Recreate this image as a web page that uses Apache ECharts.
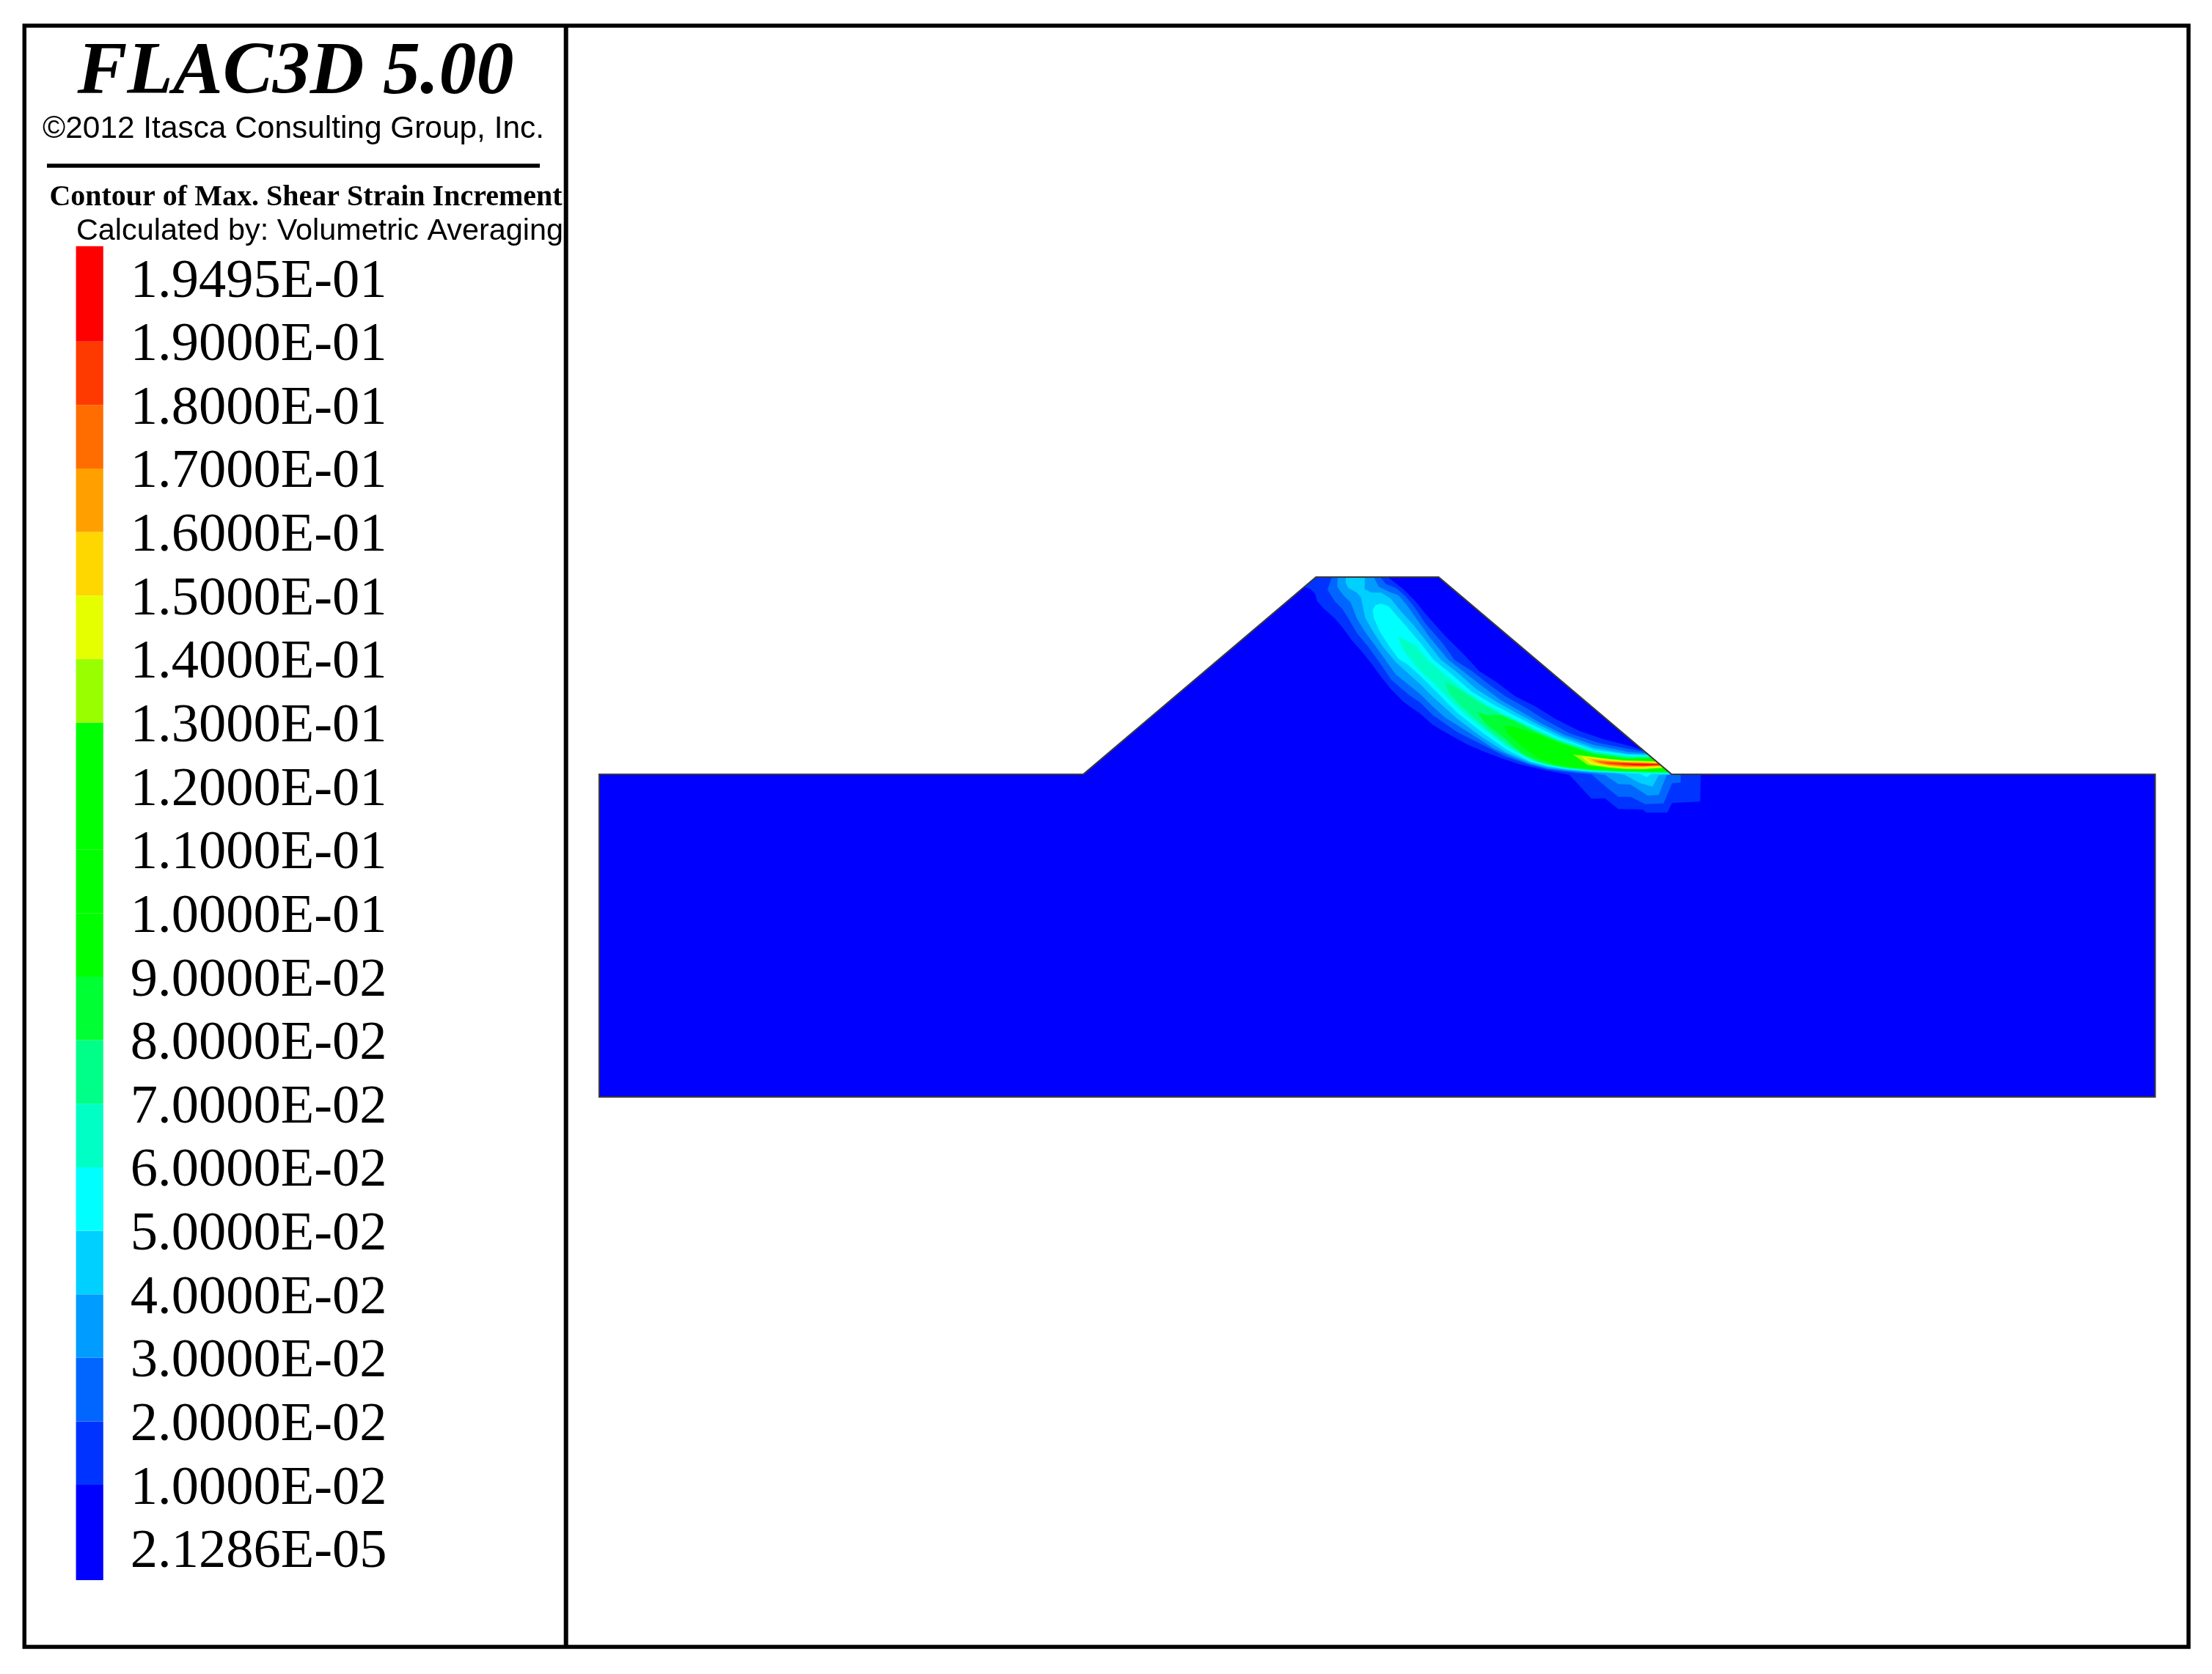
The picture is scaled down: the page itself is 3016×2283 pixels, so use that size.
<!DOCTYPE html>
<html>
<head>
<meta charset="utf-8">
<title>FLAC3D contour</title>
<script src="https://cdn.jsdelivr.net/npm/echarts@6/dist/echarts.min.js"></script>
<style>
  html, body { margin: 0; padding: 0; background: #fff; }
  #main { width: 3016px; height: 2283px; }
</style>
</head>
<body>
<div id="main"></div>
<script>
// legend, bottom to top
const tickLabels = ['2.1286E-05', '1.0000E-02', '2.0000E-02', '3.0000E-02', '4.0000E-02', '5.0000E-02', '6.0000E-02',
  '7.0000E-02', '8.0000E-02', '9.0000E-02', '1.0000E-01', '1.1000E-01', '1.2000E-01', '1.3000E-01', '1.4000E-01',
  '1.5000E-01', '1.6000E-01', '1.7000E-01', '1.8000E-01', '1.9000E-01', '1.9495E-01'];
const bandColors = ['#0000ff', '#0033ff', '#0066ff', '#009cff', '#00d0ff', '#00ffff', '#00ffc4', '#00ff88', '#00ff33',
  '#00ff00', '#00ff00', '#00ff00', '#00ff00', '#99ff00', '#e6ff00', '#ffd700', '#ffa000', '#ff6c00', '#ff3a00', '#ff0000'];

// model section, cm from lower left corner
const modelOutline = [[0, 0], [6365, 0], [6365, 1320], [4387, 1320], [3434, 2127], [2932, 2127], [1980, 1320], [0, 1320]];

// each array: area where the strain is above that band's lower limit
const band01 = [[2884, 2086], [2932, 2127], [3225, 2127], [3289, 2078], [3339, 2028], [3379, 1978], [3459, 1888], [3539, 1808],
  [3599, 1743], [3669, 1698], [3749, 1638], [3829, 1598], [3909, 1548], [4009, 1498], [4109, 1463], [4209, 1438], [4272, 1418],
  [4387, 1320], [4506, 1320], [4504, 1208], [4389, 1203], [4369, 1163], [4284, 1163], [4269, 1176], [4169, 1178], [4114, 1222],
  [4059, 1220], [3969, 1318], [3879, 1335], [3809, 1350], [3759, 1363], [3699, 1383], [3619, 1413], [3549, 1443], [3459, 1493],
  [3409, 1523], [3359, 1568], [3309, 1603], [3289, 1618], [3239, 1668], [3199, 1718], [3159, 1773], [3119, 1823], [3079, 1868],
  [3039, 1923], [3009, 1958], [2964, 1998], [2937, 2028], [2929, 2058], [2909, 2078]];
const band02 = [[2997, 2127], [3195, 2127], [3219, 2098], [3259, 2083], [3299, 2048], [3339, 1998], [3379, 1938], [3449, 1858],
  [3499, 1788], [3569, 1743], [3639, 1688], [3709, 1638], [3789, 1593], [3869, 1543], [3969, 1488], [4089, 1448], [4209, 1424],
  [4279, 1412], [4387, 1320], [4424, 1320], [4424, 1286], [4389, 1283], [4354, 1201], [4279, 1198], [4219, 1228], [4169, 1228],
  [4119, 1268], [4059, 1320], [3959, 1330], [3879, 1341], [3809, 1358], [3709, 1392], [3609, 1443], [3509, 1493], [3409, 1563],
  [3359, 1613], [3309, 1648], [3239, 1708], [3199, 1768], [3149, 1838], [3099, 1898], [3064, 1958], [3039, 1998], [3009, 2028],
  [2979, 2076]];
const band03 = [[3021, 2127], [3168, 2127], [3189, 2088], [3229, 2068], [3269, 2053], [3299, 2018], [3339, 1963], [3399, 1878],
  [3474, 1788], [3539, 1738], [3609, 1683], [3689, 1623], [3769, 1578], [3849, 1531], [3949, 1481], [4069, 1440], [4209, 1412],
  [4285, 1406], [4387, 1320], [4367, 1316], [4334, 1236], [4289, 1233], [4219, 1278], [4169, 1280], [4114, 1318], [4059, 1325],
  [3959, 1334], [3879, 1344], [3809, 1362], [3759, 1381], [3659, 1425], [3559, 1490], [3459, 1553], [3409, 1598], [3359, 1648],
  [3309, 1688], [3259, 1728], [3209, 1798], [3169, 1853], [3129, 1908], [3099, 1958], [3074, 2023], [3044, 2053], [3019, 2088]];
const band04 = [[3054, 2127], [3132, 2127], [3131, 2078], [3159, 2063], [3199, 2063], [3239, 2038], [3279, 1988], [3329, 1933],
  [3389, 1858], [3444, 1788], [3509, 1738], [3589, 1668], [3669, 1618], [3749, 1573], [3839, 1525], [3939, 1475], [4069, 1428],
  [4209, 1404], [4290, 1402], [4387, 1320], [4334, 1316], [4309, 1270], [4259, 1283], [4194, 1318], [4159, 1324], [4059, 1329],
  [3959, 1338], [3879, 1350], [3809, 1368], [3709, 1410], [3609, 1473], [3509, 1548], [3409, 1638], [3359, 1688], [3309, 1733],
  [3259, 1778], [3209, 1838], [3169, 1898], [3134, 1958], [3121, 2018], [3117, 2043], [3099, 2063], [3064, 2083], [3054, 2103]];
const band05 = [[3175, 2012], [3199, 2018], [3229, 2008], [3259, 1973], [3299, 1928], [3359, 1858], [3414, 1788], [3489, 1728], [3569, 1658],
  [3649, 1610], [3739, 1563], [3829, 1517], [3929, 1470], [4069, 1420], [4209, 1400], [4295, 1398], [4387, 1320], [4304, 1322],
  [4284, 1308], [4259, 1322], [4159, 1327], [4059, 1332], [3959, 1341], [3879, 1354], [3809, 1372], [3709, 1423], [3609, 1493],
  [3509, 1573], [3409, 1673], [3359, 1723], [3309, 1768], [3269, 1793], [3229, 1848], [3194, 1903], [3169, 1958], [3164, 1993]];
const band06 = [[3267, 1886], [3309, 1863], [3339, 1848], [3389, 1788], [3459, 1728], [3539, 1663], [3629, 1605], [3729, 1552],
  [3819, 1510], [3919, 1465], [4069, 1415], [4209, 1395], [4299, 1394], [4383, 1324], [4309, 1325], [4159, 1329], [4059, 1334],
  [3959, 1344], [3879, 1358], [3809, 1378], [3709, 1436], [3609, 1513], [3539, 1568], [3479, 1625], [3419, 1688], [3369, 1733],
  [3329, 1778], [3289, 1828]];
const band07 = [[3459, 1698], [3509, 1673], [3549, 1648], [3609, 1610], [3689, 1565], [3739, 1545], [3819, 1503], [3919, 1460],
  [4069, 1410], [4209, 1390], [4302, 1391], [4381, 1326], [4309, 1327], [4159, 1331], [4059, 1336], [3959, 1346], [3889, 1358],
  [3829, 1374], [3739, 1425], [3649, 1490], [3579, 1550], [3514, 1610], [3474, 1658]];
const band08 = [[3589, 1576], [3629, 1563], [3689, 1562], [3749, 1535], [3829, 1495], [3929, 1452], [4069, 1405], [4209, 1386],
  [4305, 1389], [4379, 1328], [4309, 1329], [4159, 1333], [4059, 1338], [3959, 1348], [3909, 1356], [3849, 1370], [3779, 1402],
  [3709, 1463], [3629, 1525]];
const band09 = [[3709, 1520], [3749, 1512], [3829, 1487], [3939, 1445], [4069, 1400], [4209, 1382], [4308, 1386], [4376, 1330],
  [4309, 1331], [4159, 1335], [4059, 1340], [3959, 1351], [3909, 1360], [3839, 1388], [3769, 1438], [3709, 1493]];
const band13 = [[3984, 1401], [4039, 1395], [4109, 1386], [4189, 1378], [4279, 1375], [4324, 1373], [4356, 1346], [4269, 1340],
  [4199, 1341], [4129, 1347], [4044, 1358]];
const band14 = [[4014, 1396], [4059, 1390], [4109, 1383], [4189, 1375], [4279, 1372], [4327, 1371], [4353, 1349], [4269, 1344],
  [4199, 1345], [4129, 1351], [4054, 1362]];
const band15 = [[4034, 1388], [4109, 1380], [4189, 1372], [4279, 1370], [4330, 1368], [4350, 1352], [4269, 1348], [4199, 1348],
  [4129, 1354], [4064, 1368]];
const band16 = [[4057, 1382], [4109, 1376], [4189, 1370], [4279, 1368], [4333, 1366], [4347, 1354], [4269, 1351], [4199, 1351],
  [4129, 1357], [4079, 1368]];
const band17 = [[4077, 1375], [4139, 1371], [4199, 1368], [4279, 1366], [4336, 1364], [4344, 1357], [4269, 1353], [4199, 1354],
  [4139, 1359], [4099, 1366]];
const band18 = [[4109, 1368], [4169, 1367], [4229, 1365], [4279, 1364], [4339, 1362], [4342, 1358], [4279, 1355], [4229, 1357],
  [4169, 1360], [4124, 1364]];
const band19 = [[4179, 1364], [4229, 1362], [4279, 1361], [4340, 1361], [4341, 1359], [4279, 1357], [4229, 1358], [4189, 1361]];

// bands 10-12 are the same green as 9, so they are not drawn on their own
const contourBands = [band01, band02, band03, band04, band05, band06, band07, band08, band09, band13, band14, band15, band16, band17, band18, band19];
const contourLevels = [1, 2, 3, 4, 5, 6, 7, 8, 9, 13, 14, 15, 16, 17, 18, 19];

const chart = echarts.init(document.getElementById('main'));

// legend swatch runs between two labels, the first and last ones reach half a step past theirs
const legendData = bandColors.map(function (c, i) {
  return [i === 0 ? -0.5 : i, i === bandColors.length - 1 ? 20.5 : i + 1];
});

function renderLegend(params, api) {
  const p0 = api.coord([0, api.value(0)]);
  const p1 = api.coord([1, api.value(1)]);
  return {
    type: 'rect',
    shape: { x: p0[0], y: p1[1], width: p1[0] - p0[0], height: p0[1] - p1[1] },
    style: { fill: bandColors[params.dataIndex] }
  };
}

function polygonItem(points, api, style) {
  return {
    type: 'polygon',
    shape: { points: points.map(function (p) { return api.coord(p); }) },
    style: style
  };
}

function renderContour(params, api) {
  const i = params.dataIndex;
  if (i === 0) return polygonItem(modelOutline, api, { fill: bandColors[0] });
  if (i === contourBands.length + 1) return polygonItem(modelOutline, api, { fill: 'none', stroke: '#3a3a3a', lineWidth: 2 });
  return polygonItem(contourBands[i - 1], api, { fill: bandColors[contourLevels[i - 1]] });
}

const contourData = [[0]].concat(contourBands.map(function (b, i) { return [i + 1]; }), [[contourBands.length + 1]]);

const serif = '"Liberation Serif"';
const sans = '"Liberation Sans"';

chart.setOption({
  animation: false,
  backgroundColor: '#fff',
  title: [
    { text: 'FLAC3D 5.00', left: 398, top: 45, textAlign: 'center',
      textStyle: { fontFamily: serif, fontSize: 102, fontStyle: 'italic', fontWeight: 'bold', color: '#000' } },
    { text: '©2012 Itasca Consulting Group, Inc.', left: 395, top: 150, textAlign: 'center',
      textStyle: { fontFamily: sans, fontSize: 42.4, fontWeight: 'normal', color: '#000' } },
    { text: 'Contour of Max. Shear Strain Increment', left: 412, top: 245, textAlign: 'center',
      textStyle: { fontFamily: serif, fontSize: 40, fontWeight: 'bold', color: '#000' } },
    { text: 'Calculated by: Volumetric Averaging', left: 431, top: 290, textAlign: 'center',
      textStyle: { fontFamily: sans, fontSize: 41.4, fontWeight: 'normal', color: '#000' } }
  ],
  grid: [
    { left: 103.6, width: 37.2, top: 292.4, height: 1905.9 },
    { left: 817, width: 2121.5, top: 787, height: 709 }
  ],
  xAxis: [
    { gridIndex: 0, type: 'value', min: 0, max: 1, show: false },
    { gridIndex: 1, type: 'value', min: 0, max: 6365, show: false }
  ],
  yAxis: [
    {
      gridIndex: 0, type: 'value', position: 'right', min: -1, max: 21, interval: 1,
      axisLine: { show: false }, axisTick: { show: false }, splitLine: { show: false },
      axisLabel: {
        margin: 37,
        formatter: function (v) { return tickLabels[v] ? '{v|' + tickLabels[v] + '}' : ''; },
        rich: { v: { fontFamily: serif, fontSize: 74.5, color: '#000', padding: [12, 0, 0, 0] } }
      }
    },
    { gridIndex: 1, type: 'value', min: 0, max: 2127, show: false }
  ],
  series: [
    {
      type: 'custom', xAxisIndex: 0, yAxisIndex: 0, silent: true,
      data: legendData, encode: { y: [0, 1] }, renderItem: renderLegend
    },
    {
      type: 'custom', xAxisIndex: 1, yAxisIndex: 1, silent: true,
      data: contourData, renderItem: renderContour
    }
  ],
  graphic: [
    { type: 'rect', shape: { x: 33.3, y: 35, width: 2950.7, height: 2211 }, style: { fill: 'none', stroke: '#000', lineWidth: 5.5 } },
    { type: 'line', shape: { x1: 771.7, y1: 35, x2: 771.7, y2: 2246 }, style: { stroke: '#000', lineWidth: 6 } },
    { type: 'line', shape: { x1: 64, y1: 226, x2: 736, y2: 226 }, style: { stroke: '#000', lineWidth: 5.5 } }
  ]
});
</script>
</body>
</html>
